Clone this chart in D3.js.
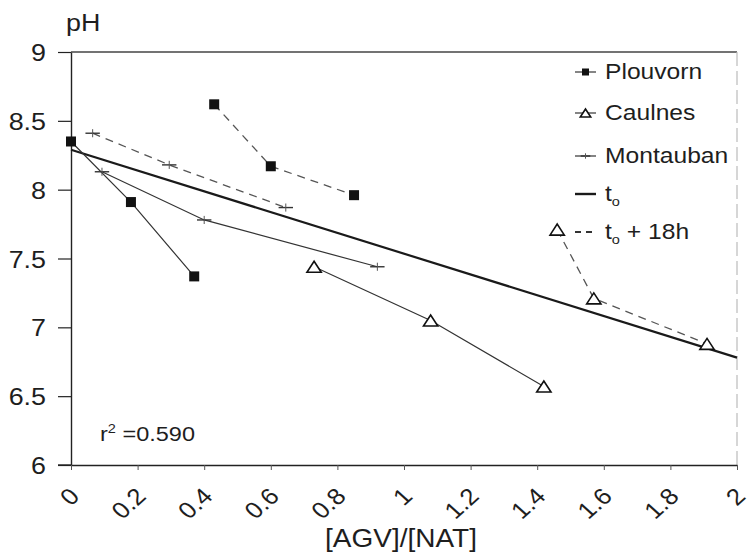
<!DOCTYPE html>
<html><head><meta charset="utf-8">
<script src="https://cdn.jsdelivr.net/npm/d3@7"></script>
<style>
body{margin:0;background:#fff}
svg{display:block}
text{font-family:"Liberation Sans",Arial,Helvetica,sans-serif;fill:#1e1e1e}
</style>
</head><body>
<svg id="chart" width="750" height="556"></svg>
<script>
// ---- data ----
const xTicks = [0, 0.2, 0.4, 0.6, 0.8, 1, 1.2, 1.4, 1.6, 1.8, 2];
const yTicks = [6, 6.5, 7, 7.5, 8, 8.5, 9];

const plouvornT0X  = [0, 0.18, 0.37];
const plouvornT0Y  = [8.35, 7.91, 7.37];
const plouvornT18X = [0.43, 0.60, 0.85];
const plouvornT18Y = [8.62, 8.17, 7.96];

const caulnesT0X  = [0.73, 1.08, 1.42];
const caulnesT0Y  = [7.44, 7.05, 6.57];
const caulnesT18X = [1.46, 1.57, 1.91];
const caulnesT18Y = [7.71, 7.21, 6.88];

const montaubanT0X  = [0.093, 0.40, 0.92];
const montaubanT0Y  = [8.13, 7.78, 7.44];
const montaubanT18X = [0.065, 0.295, 0.645];
const montaubanT18Y = [8.41, 8.18, 7.87];

const regressionX = [0, 2];
const regressionY = [8.29, 6.78];

const legendLabels = ["Plouvorn", "Caulnes", "Montauban", "t0", "t0 + 18h"];
const r2Label = "0.590";

// ---- layout ----
const SX = 1.12;
const svg = d3.select("#chart");
const x = d3.scaleLinear().domain([0, 2]).range([71, 737]);
const y = d3.scaleLinear().domain([6, 9]).range([465, 52]);
const ink = "#222";

const zip = (a, b) => a.map((v, i) => [v, b[i]]);
const series = [
  {site: "Plouvorn",  dashed: false, marker: "square",   pts: zip(plouvornT0X, plouvornT0Y)},
  {site: "Plouvorn",  dashed: true,  marker: "square",   pts: zip(plouvornT18X, plouvornT18Y)},
  {site: "Caulnes",   dashed: false, marker: "triangle", pts: zip(caulnesT0X, caulnesT0Y)},
  {site: "Caulnes",   dashed: true,  marker: "triangle", pts: zip(caulnesT18X, caulnesT18Y)},
  {site: "Montauban", dashed: false, marker: "tick",     pts: zip(montaubanT0X, montaubanT0Y)},
  {site: "Montauban", dashed: true,  marker: "tick",     pts: zip(montaubanT18X, montaubanT18Y)}
];

// frame: top and right borders
svg.append("line").attr("x1", x(0)).attr("x2", x(2)).attr("y1", y(9)).attr("y2", y(9))
  .attr("stroke", "#444").attr("stroke-width", 1.3);
svg.append("line").attr("x1", x(2)).attr("x2", x(2)).attr("y1", y(9)).attr("y2", y(6))
  .attr("stroke", "#bbb").attr("stroke-width", 1.2).attr("stroke-dasharray", "14,5");

// y axis
const gy = svg.append("g").attr("transform", `translate(${x(0)},0)`)
  .call(d3.axisLeft(y).tickValues(yTicks).tickSize(13).tickSizeOuter(0).tickFormat(d3.format("")));
gy.select(".domain").attr("stroke", ink).attr("stroke-width", 1.4);
gy.selectAll(".tick line").attr("stroke", ink).attr("stroke-width", 1.2);
gy.selectAll(".tick text")
  .attr("font-size", 24).attr("font-family", null).attr("fill", "#1e1e1e")
  .attr("x", -25 / SX).attr("dy", "0.36em").attr("transform", `scale(${SX},1)`);

// x axis
const gx = svg.append("g").attr("transform", `translate(0,${y(6)})`)
  .call(d3.axisBottom(x).tickValues(xTicks).tickSize(5).tickSizeOuter(0).tickFormat(d3.format("")));
gx.select(".domain").attr("stroke", ink).attr("stroke-width", 1.4);
gx.selectAll(".tick line").attr("stroke", "#555").attr("stroke-width", 1);
gx.selectAll(".tick text")
  .attr("font-size", 23).attr("font-family", null).attr("fill", "#1e1e1e")
  .attr("x", 0).attr("y", 0).attr("dy", "0.35em").attr("text-anchor", "end")
  .attr("transform", `translate(3,27) scale(${SX},1) rotate(-45)`);
// extend x axis to meet y tick at 6
svg.append("line").attr("x1", x(0) - 13).attr("x2", x(0)).attr("y1", y(6)).attr("y2", y(6))
  .attr("stroke", ink).attr("stroke-width", 1.4);

// regression line
const line = d3.line().x(d => x(d[0])).y(d => y(d[1]));
svg.append("path").datum(zip(regressionX, regressionY)).attr("d", line)
  .attr("fill", "none").attr("stroke", "#1a1a1a").attr("stroke-width", 2.2);

// series lines
svg.selectAll("path.series").data(series).join("path").attr("class", "series")
  .attr("d", d => line(d.pts)).attr("fill", "none")
  .attr("stroke", d => d.dashed ? "#555" : "#333")
  .attr("stroke-width", d => d.dashed ? 1.3 : 1.2)
  .attr("stroke-dasharray", d => d.dashed ? "8,6" : null);

// markers
function drawMarker(g, type, size) {
  if (type === "square") {
    g.append("rect").attr("x", -size / 2).attr("y", -size / 2).attr("width", size).attr("height", size)
      .attr("fill", "#111");
  } else if (type === "triangle") {
    const w = size * 1.3, h = size;
    g.append("path").attr("d", `M${-w / 2},${h / 2}L${w / 2},${h / 2}L0,${-h / 2}Z`)
      .attr("fill", "#fff").attr("stroke", "#111").attr("stroke-width", 1.6);
  } else {
    g.append("line").attr("x1", -size * 0.8).attr("x2", size * 0.8).attr("y1", 0).attr("y2", 0)
      .attr("stroke", "#333").attr("stroke-width", 1.4);
    g.append("line").attr("x1", 0).attr("x2", 0).attr("y1", -size * 0.45).attr("y2", size * 0.45)
      .attr("stroke", "#555").attr("stroke-width", 1);
  }
}
series.forEach(s => {
  s.pts.forEach(p => {
    const g = svg.append("g").attr("transform", `translate(${x(p[0])},${y(p[1])})`);
    drawMarker(g, s.marker, s.marker === "square" ? 10 : (s.marker === "triangle" ? 11 : 9));
  });
});

// text helper
function txt(px, py, size, anchor) {
  return svg.append("text").attr("transform", `translate(${px},${py}) scale(${SX},1)`)
    .attr("font-size", size).attr("text-anchor", anchor || "start");
}

// titles
txt(66, 31, 24).text("pH");
txt(401, 547, 25, "middle").text("[AGV]/[NAT]");
const r2 = txt(100, 441, 21);
r2.append("tspan").text("r");
r2.append("tspan").attr("font-size", 13).attr("dy", -8).text("2");
r2.append("tspan").attr("dy", 8).text(" =" + r2Label);

// legend
const legY = [72, 113, 156, 194, 232];
const lx0 = 575, lx1 = 596, ltx = 605;
legendLabels.forEach((lab, i) => {
  const yy = legY[i];
  const g = svg.append("g");
  if (i < 3) {
    g.append("line").attr("x1", lx0).attr("x2", lx1).attr("y1", yy).attr("y2", yy)
      .attr("stroke", "#333").attr("stroke-width", 1.2);
    const mg = g.append("g").attr("transform", `translate(${(lx0 + lx1) / 2},${yy})`);
    drawMarker(mg, ["square", "triangle", "tick"][i], i === 0 ? 7 : (i === 1 ? 8 : 6));
  } else if (i === 3) {
    g.append("line").attr("x1", lx0).attr("x2", lx1).attr("y1", yy).attr("y2", yy)
      .attr("stroke", "#1a1a1a").attr("stroke-width", 2.4);
  } else {
    g.append("line").attr("x1", lx0).attr("x2", lx1).attr("y1", yy).attr("y2", yy)
      .attr("stroke", "#333").attr("stroke-width", 2).attr("stroke-dasharray", "6,5");
  }
  const t = txt(ltx, yy + 7, 22);
  if (lab.startsWith("t0")) {
    t.append("tspan").text("t");
    t.append("tspan").attr("font-size", 13).attr("dy", 5).text("o");
    t.append("tspan").attr("dy", -5).text(lab.slice(2));
  } else {
    t.text(lab);
  }
});
</script>
</body></html>
